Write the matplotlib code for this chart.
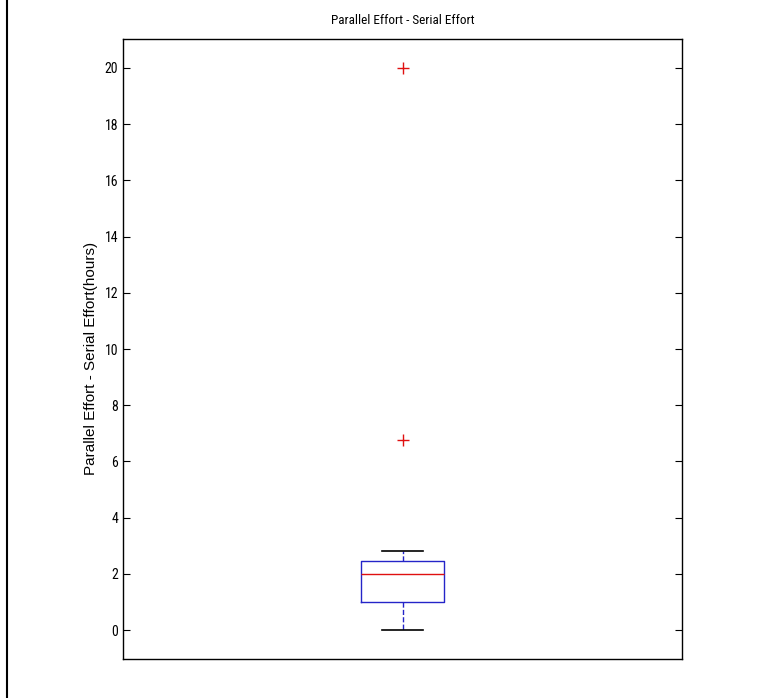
import matplotlib.pyplot as plt
from matplotlib.lines import Line2D

# box statistics
q1 = 1.0
median = 2.0
q3 = 2.47
whisker_low = 0.0
whisker_high = 2.8
outliers = [6.75, 20.0]

narrow = ['Liberation Sans Narrow', 'Arial Narrow', 'Roboto Condensed', 'Liberation Sans', 'DejaVu Sans']
plt.rcParams['font.family'] = narrow

fig = plt.figure(figsize=(7.68, 6.98), dpi=100)
ax = fig.add_axes([0.1602, 0.0559, 0.7279, 0.8882])

stats = [{'med': median, 'q1': q1, 'q3': q3,
          'whislo': whisker_low, 'whishi': whisker_high, 'fliers': outliers}]
ax.bxp(stats, positions=[1], widths=0.150,
       boxprops=dict(color='#2424c8', linewidth=1),
       medianprops=dict(color='#e01010', linewidth=1),
       whiskerprops=dict(color='#2424c8', linestyle='--', linewidth=1),
       capprops=dict(color='black', linewidth=1.2),
       flierprops=dict(marker='+', markeredgecolor='#e01010', markersize=8,
                       markeredgewidth=1, linestyle='none'),
       capwidths=0.073)

ax.set_xlim(0.5, 1.5)
ax.set_ylim(-1.03, 21.03)
ax.set_yticks(range(0, 21, 2))
ax.set_xticks([])
ax.tick_params(axis='y', direction='in', length=5, right=True, labelsize=10)
for s in ax.spines.values():
    s.set_linewidth(1)

ax.set_title('Parallel Effort - Serial Effort', fontsize=9.5, pad=11)
ax.set_ylabel('Parallel Effort - Serial Effort(hours)', fontsize=11,
              family=['Liberation Sans', 'DejaVu Sans'])
ax.yaxis.set_label_coords(-0.045, 0.484)

# left border line of the screenshot
fig.add_artist(Line2D([0.009, 0.009], [0, 1], color='black', linewidth=1.5,
                      transform=fig.transFigure))

fig.savefig('out.png', dpi=100)
